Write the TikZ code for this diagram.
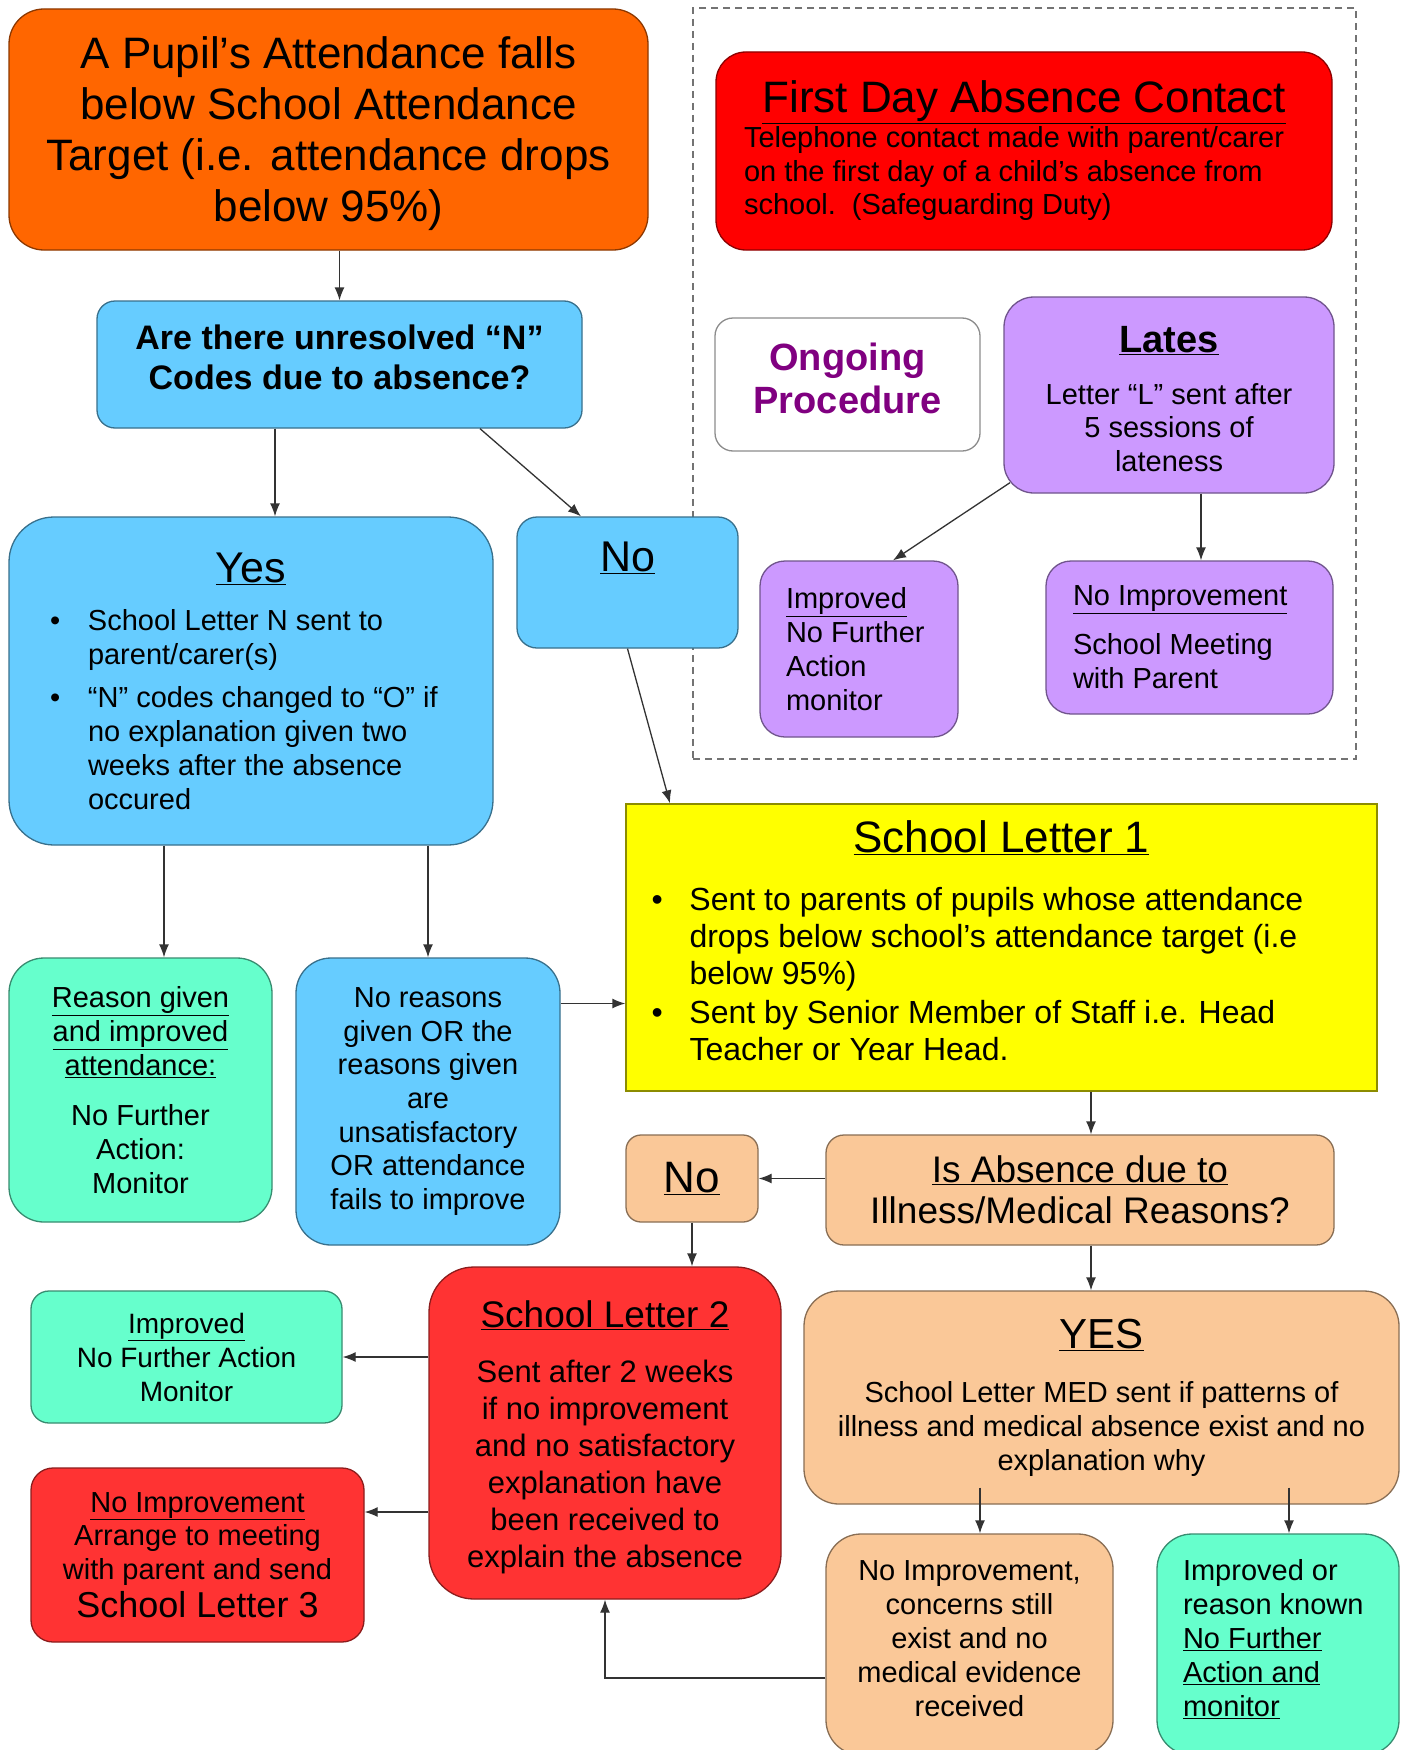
\documentclass[tikz,border=0pt]{standalone}
\usepackage{fontspec}
\setmainfont{Liberation Sans}
\usetikzlibrary{arrows.meta}

\definecolor{cOrange}{HTML}{FF6600}
\definecolor{cRed}{HTML}{FF0000}
\definecolor{cRose}{HTML}{FF3333}
\definecolor{cBlue}{HTML}{66CCFF}
\definecolor{cLilac}{HTML}{CC99FF}
\definecolor{cMint}{HTML}{66FFCC}
\definecolor{cYellow}{HTML}{FFFF00}
\definecolor{cPeach}{HTML}{FAC898}
\definecolor{cPurple}{HTML}{800080}

\newcommand\fsz[2]{\fontsize{#1}{#2}\selectfont}
\newcommand\bul[3]{\par\noindent\hangindent=#2\hangafter=1\hbox to #2{\hskip #1\textbullet\hfil}#3\par}
\newcommand\lift[1]{\rule[-#1]{0pt}{1pt}}

\tikzset{
  box/.style={draw=#1!55!black, fill=#1, line width=1.3pt, rounded corners=25pt,
    align=flush center, inner sep=0pt},
  sqbox/.style={box=#1, sharp corners},
  leftbox/.style={box=#1, align=flush left},
  arr/.style={-{Latex[length=13pt,width=10pt]}, line width=1.3pt, draw=black!80},
  frame/.style={draw=black!55, dashed, line width=1.3pt, dash pattern=on 7pt off 5pt}
}

\begin{document}
\begin{tikzpicture}[x=1pt,y=-1pt]
\clip (0,0) rectangle (1410,1750);
\fill[white] (0,0) rectangle (1410,1750);

% ongoing procedure panel
\node[frame, minimum width=663pt, minimum height=751pt] (panel) at (1024.5,383.5) {};

\node[box=cOrange, rounded corners=35pt, minimum width=639pt, minimum height=241pt, text width=620pt,
  font=\fsz{44}{51}] (pupil) at (328.5,129.5)
  {\rule{0pt}{41pt}A Pupil’s Attendance falls\\below School Attendance\\Target (i.e. attendance drops\\below 95\%)};

\node[box=cRed, rounded corners=30pt, minimum width=616pt, minimum height=198pt, text width=560pt,
  font=\fsz{44}{35}] (firstday) at (1024,151)
  {\underline{First Day Absence Contact}\\
   \begin{minipage}[t]{560pt}\fsz{29}{33.5}Telephone contact made with parent/carer\newline
   on the first day of a child’s absence from\newline school.\ \ (Safeguarding Duty)\end{minipage}};

\node[box=white, rounded corners=18pt, minimum width=265pt, minimum height=133pt, text width=240pt,
  font=\fsz{38}{43}\bfseries, text=cPurple] (ongoing) at (847.5,384.5)
  {Ongoing\\Procedure\lift{13pt}};

\node[box=cLilac, rounded corners=30pt, minimum width=330pt, minimum height=196pt, text width=300pt,
  font=\fsz{29}{33.5}] (lates) at (1169,395)
  {{\fsz{38}{38}\bfseries\underline{Lates}\rule{0pt}{34pt}}\\[18pt]Letter “L” sent after\\5 sessions of\\lateness};

\node[leftbox=cLilac, minimum width=198pt, minimum height=176pt, text width=146pt,
  font=\fsz{29}{34}] (improvedL) at (859,649)
  {\underline{Improved}\\No Further\\Action\\monitor};

\node[leftbox=cLilac, minimum width=287pt, minimum height=153pt, text width=233pt,
  font=\fsz{29}{34}] (noimpL) at (1189.5,637.5)
  {\underline{No Improvement}\\[15pt]School Meeting\\with Parent};

\node[box=cBlue, rounded corners=18pt, minimum width=485pt, minimum height=127pt, text width=460pt,
  font=\fsz{34}{40}\bfseries] (question) at (339.5,364.5)
  {Are there unresolved “N”\\Codes due to absence?\lift{14pt}};

\node[box=cBlue, rounded corners=45pt, minimum width=484pt, minimum height=328pt, text width=440pt,
  font=\fsz{43}{48}] (yes) at (251,681)
  {\underline{Yes}\\
   \begin{minipage}[t]{440pt}\fsz{29}{34}
   \bul{19pt}{57pt}{School Letter N sent to\newline parent/carer(s)}
   \vskip 9pt
   \bul{19pt}{57pt}{“N” codes changed to “O” if\newline no explanation given two\newline weeks after the absence\newline occured}
   \end{minipage}};

\node[box=cBlue, rounded corners=20pt, minimum width=221pt, minimum height=131pt] (noB) at (627.5,582.5) {};
\node[font=\fsz{43}{43}] (noBtext) at (627.5,558) {\underline{No}};

\node[sqbox=cYellow, minimum width=751pt, minimum height=287pt, text width=700pt,
  font=\fsz{44}{44}] (letter1) at (1001.5,947.5)
  {\underline{School Letter 1}\\[14pt]
   \begin{minipage}[t]{700pt}\fsz{32}{37}
   \bul{0pt}{38pt}{Sent to parents of pupils whose attendance\newline drops below school’s attendance target (i.e\newline below 95\%)}
   \vskip 2pt
   \bul{0pt}{38pt}{Sent by Senior Member of Staff i.e. Head\newline Teacher or Year Head.}
   \kern 14pt
   \end{minipage}};

\node[box=cMint, rounded corners=35pt, minimum width=263pt, minimum height=264pt, text width=240pt,
  font=\fsz{29}{34}] (reason) at (140.5,1090)
  {\underline{Reason given}\\\underline{and improved}\\\underline{attendance:}\\[16pt]No Further\\Action:\\Monitor};

\node[box=cBlue, rounded corners=35pt, minimum width=264pt, minimum height=287pt, text width=240pt,
  font=\fsz{29}{33.7}] (noreasons) at (428,1101.5)
  {No reasons\\given OR the\\reasons given\\are\\unsatisfactory\\OR attendance\\fails to improve};

\node[box=cPeach, rounded corners=15pt, minimum width=132pt, minimum height=87pt,
  font=\fsz{44}{44}] (noC) at (692,1178.5)
  {\underline{No}};

\node[box=cPeach, rounded corners=18pt, minimum width=508pt, minimum height=110pt, text width=480pt,
  font=\fsz{37}{41}] (isabs) at (1080,1190)
  {\underline{Is Absence due to}\\Illness/Medical Reasons?};

\node[box=cRose, rounded corners=45pt, minimum width=352pt, minimum height=332pt, text width=330pt,
  font=\fsz{31}{37}] (letter2) at (605,1433)
  {{\fsz{37}{37}\underline{School Letter 2}\rule{0pt}{36pt}}\\[18pt]Sent after 2 weeks\\if no improvement\\and no satisfactory\\explanation have\\been received to\\explain the absence};

\node[box=cPeach, rounded corners=35pt, minimum width=595pt, minimum height=213pt, text width=570pt,
  font=\fsz{29}{34}] (yesC) at (1101.5,1397.5)
  {{\fsz{42}{42}\underline{YES}}\\[20pt]School Letter MED sent if patterns of\\illness and medical absence exist and no\\explanation why};

\node[box=cMint, rounded corners=18pt, minimum width=311pt, minimum height=132pt, text width=290pt,
  font=\fsz{28}{34}] (improvedG) at (186.5,1357)
  {\underline{Improved}\\No Further Action\\Monitor};

\node[box=cRose, rounded corners=22pt, minimum width=333pt, minimum height=174pt, text width=320pt,
  font=\fsz{29}{33.5}] (noimpR) at (197.5,1555)
  {\underline{No Improvement}\\Arrange to meeting\\with parent and send\\[5pt]{\fsz{36}{39}School Letter 3}};

\node[box=cPeach, rounded corners=35pt, minimum width=287pt, minimum height=221pt, text width=270pt,
  font=\fsz{29}{34}] (concerns) at (969.5,1644.5)
  {No Improvement,\\concerns still\\exist and no\\medical evidence\\received\lift{11pt}};

\node[leftbox=cMint, rounded corners=35pt, minimum width=242pt, minimum height=221pt, text width=190pt,
  font=\fsz{29}{34}] (improvedOr) at (1278,1644.5)
  {Improved or\\reason known\\\underline{No Further}\\\underline{Action and}\\\underline{monitor}\lift{14pt}};

% connector ports
\coordinate (qL) at ([xshift=-64.5pt]question.south);
\coordinate (qR) at ([xshift=140.5pt]question.south);
\coordinate (noIn) at ([xshift=-46.5pt]noB.north);
\coordinate (l1In) at ([xshift=-331.5pt]letter1.north);
\coordinate (latesL) at ([xshift=-159pt,yshift=11pt]lates.south);
\coordinate (impIn) at ([xshift=34pt]improvedL.north);
\coordinate (latesR) at ([xshift=32pt]lates.south);
\coordinate (yesL) at ([xshift=-87pt]yes.south);
\coordinate (nrOut) at ([yshift=98pt]noreasons.east);
\coordinate (l1Out) at ([xshift=89.5pt]letter1.south);
\coordinate (nrIn) at ([yshift=43pt]noimpR.east);
\coordinate (yL) at ([xshift=-121.5pt,yshift=17pt]yesC.south);
\coordinate (yR) at ([xshift=187.5pt,yshift=17pt]yesC.south);
\coordinate (cOut) at ([yshift=-33.5pt]concerns.west);

\draw[arr] (question.north |- pupil.south) -- (question.north);
\draw[arr] (qL) -- (qL |- yes.north);
\draw[arr] (qR) -- (noIn);
\draw[arr] (noB.south) -- (l1In);
\draw[arr] (latesL) -- (impIn);
\draw[arr] (latesR) -- (latesR |- noimpL.north);
\draw[arr] (yesL) -- (yesL |- reason.north);
\draw[arr] (noreasons.north |- yes.south) -- (noreasons.north);
\draw[arr] (nrOut) -- (nrOut -| letter1.west);
\draw[arr] (l1Out) -- (l1Out |- isabs.north);
\draw[arr] (isabs.west |- noC.east) -- (noC.east);
\draw[arr] (noC.south) -- (noC.south |- letter2.north);
\draw[arr] (l1Out |- isabs.south) -- (l1Out |- yesC.north);
\draw[arr] (letter2.west |- improvedG.east) -- (improvedG.east);
\draw[arr] (letter2.west |- nrIn) -- (nrIn);
\draw[arr] (yL) -- (yL |- concerns.north);
\draw[arr] (yR) -- (yR |- improvedOr.north);
\draw[arr] (cOut) -| (letter2.south);
\end{tikzpicture}
\end{document}
